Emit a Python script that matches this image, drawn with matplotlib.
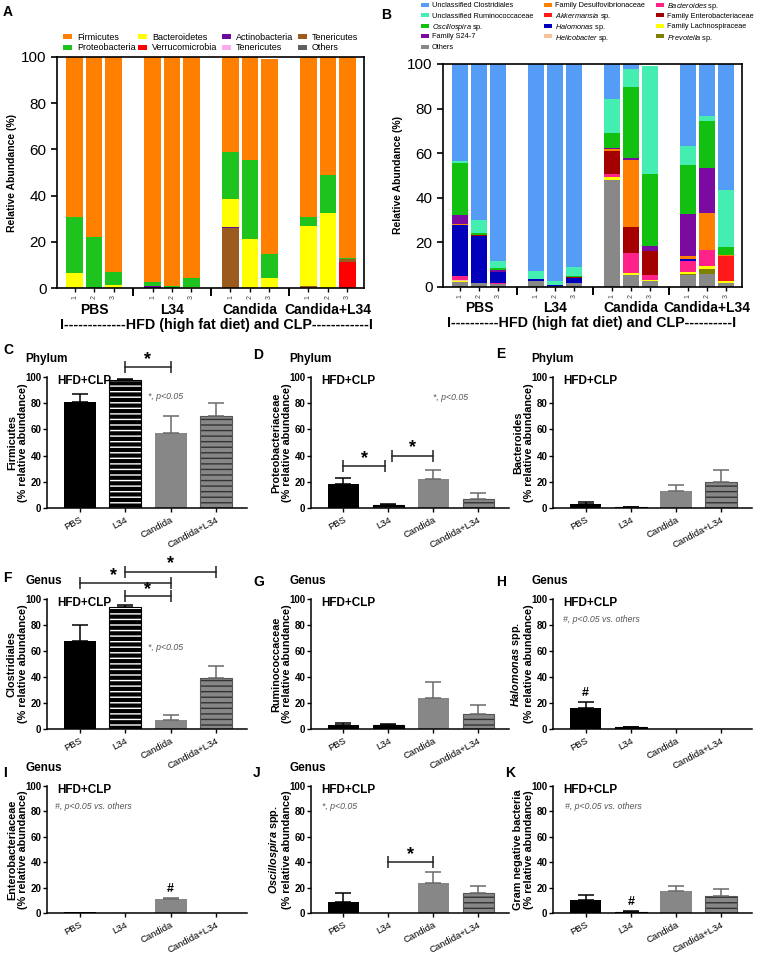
import numpy as np
import matplotlib
matplotlib.use('Agg')
import matplotlib.pyplot as plt
import matplotlib.transforms as mtrans
from matplotlib.patches import Rectangle

plt.rcParams['font.family'] = ['Liberation Sans', 'DejaVu Sans']
plt.rcParams['mathtext.fontset'] = 'custom'
plt.rcParams['mathtext.rm'] = 'Liberation Sans'
plt.rcParams['mathtext.it'] = 'Liberation Sans:italic'
plt.rcParams['mathtext.bf'] = 'Liberation Sans:bold'
plt.rcParams['mathtext.bfit'] = 'Liberation Sans:bold:italic'
plt.rcParams['hatch.linewidth'] = 1.0

# ---------------- data ----------------
groups = ['PBS', 'L34', 'Candida', 'Candida+L34']
replicates = ['1', '2', '3'] * 4

# panel A, phylum level (per sample, PBS1..3, L34 1..3, Candida 1..3, Candida+L34 1..3)
a_verruco = [0, 0, 0, 0, 0, 0, 0, 0, 0, 0, 0, 11.3]
a_teneric_brown = [0, 0, 0, 0, 0, 0, 26.0, 0, 0, 0.8, 0, 1.2]
a_teneric_pink = [0, 0, 0, 0, 0, 0, 0, 0, 0, 0, 0, 0]
a_actino = [0, 0, 0, 0.8, 0, 0, 0.5, 0, 0, 0, 0, 0]
a_bactero = [6.5, 0, 1.3, 0, 0, 0.5, 11.9, 21.0, 4.5, 26.0, 32.3, 0]
a_proteo = [24.2, 22.2, 5.8, 1.8, 1.0, 3.8, 20.6, 34.5, 10.4, 4.1, 16.8, 0.5]
a_firmi = [69.3, 77.8, 92.9, 97.4, 99.0, 95.7, 41.0, 44.5, 84.1, 69.1, 50.9, 87.0]
a_others = [0, 0, 0, 0, 0, 0, 0, 0, 0, 0, 0, 0]

# panel B, genus level
b_others = [2.2, 1.9, 1.5, 2.5, 0.3, 1.9, 48.1, 5.5, 2.5, 5.5, 6.0, 1.8]
b_prevotella = [0, 0, 0, 0, 0, 0, 0, 0, 0, 0.5, 2.1, 0]
b_lachno = [0.6, 0, 0, 0, 0, 0, 1.1, 0.7, 0.5, 0.6, 1.5, 0.8]
b_helico = [0.3, 0, 0, 0, 0, 0, 0, 0, 0, 0, 0, 0]
b_bacteroides = [2.0, 0, 0.3, 0, 0, 0, 1.5, 9.0, 2.2, 4.9, 7.1, 0]
b_halomonas = [22.6, 20.8, 4.8, 1.1, 0.7, 2.1, 0, 0, 0, 0.9, 0, 0]
b_entero = [0, 0.5, 0, 0, 0, 0.3, 10.1, 11.7, 10.8, 0, 0, 0]
b_akkermansia = [0, 0, 0, 0, 0, 0, 0, 0, 0.3, 0, 0, 11.2]
b_desulfo = [0.6, 0, 0, 0, 0, 0, 1.0, 30.2, 0, 1.4, 16.3, 0.4]
b_s24 = [4.1, 0, 1.0, 0, 0, 0, 0.5, 0.9, 2.2, 18.9, 20.4, 0]
b_oscillo = [23.2, 0.8, 1.0, 0, 0, 0.7, 6.6, 31.7, 32.2, 22.2, 20.9, 3.7]
b_rumino = [1.1, 5.9, 2.9, 3.4, 1.8, 4.1, 15.4, 8.2, 48.3, 8.2, 2.2, 25.6]
b_clost = [43.3, 70.1, 88.5, 93.0, 97.2, 90.9, 15.7, 2.1, 0, 36.9, 23.5, 56.5]

# panels C-K: group means and SEM (% relative abundance)
firmicutes_mean = [81, 98, 57.5, 70]
firmicutes_err = [6, 0.5, 13, 10]
proteo_mean = [18.2, 2.2, 22, 6.8]
proteo_err = [5, 0.5, 7, 5]
bacteroides_mean = [3, 0.5, 12.6, 20]
bacteroides_err = [1.5, 0.2, 4.8, 9.3]
clostridiales_mean = [67.8, 94.1, 6.6, 39.1]
clostridiales_err = [12.5, 1.5, 4.4, 9.5]
rumino_mean = [3.3, 3.0, 23.8, 11.8]
rumino_err = [1.5, 0.5, 12, 7]
halomonas_mean = [16.1, 1.5, 0.3, 0.3]
halomonas_err = [5, 0.3, 0, 0]
entero_mean = [0.5, 0, 11.2, 0]
entero_err = [0, 0, 0.4, 0]
oscillo_mean = [9, 0.3, 23.8, 15.6]
oscillo_err = [6.6, 0, 8.2, 5.7]
gramneg_mean = [10.1, 1.1, 17.3, 13.3]
gramneg_err = [4, 0.5, 4, 5.4]

# ---------------- figure ----------------
W, H = 758, 959
fig = plt.figure(figsize=(W / 100, H / 100), dpi=100)


def add_ax(l, t, r, b):
    return fig.add_axes([l / W, 1 - b / H, (r - l) / W, (b - t) / H])


def ftext(x, y, s, **kw):
    fig.text(x / W, 1 - y / H, s, **kw)


def key(x, y, color, label, fs, pw=9, ph=5, gap=6):
    # one legend entry: colour swatch + label, positioned in figure pixels
    fig.patches.append(Rectangle((x / W, 1 - (y + ph / 2) / H), pw / W, ph / H,
                                 transform=fig.transFigure, facecolor=color, edgecolor='none'))
    ftext(x + pw + gap, y, label, fontsize=fs, va='center_baseline', ha='left')


pos = np.array([0, 1, 2, 4, 5, 6, 8, 9, 10, 12, 13, 14])
centers = [1, 5, 9, 13]


def stacked(ax, layers, colors, hfd_text, hfd_x):
    bottom = np.zeros(len(pos))
    for vals, col in zip(layers, colors):
        vals = np.array(vals, dtype=float)
        ax.bar(pos, vals, 0.86, bottom=bottom, color=col, lw=0)
        bottom += vals
    ax.set_xlim(-0.9, 14.85)
    ax.set_ylim(0, 100)
    ax.set_yticks(range(0, 101, 20))
    ax.tick_params(axis='y', labelsize=11, length=4, width=1.2)
    ax.set_xticks(pos)
    ax.set_xticklabels(replicates, rotation=90, fontsize=5, color='#444444')
    ax.set_xticks([3, 7, 11], minor=True)
    ax.tick_params(axis='x', which='major', length=3, width=1, pad=2)
    ax.tick_params(axis='x', which='minor', length=6, width=1.4)
    for s in ax.spines.values():
        s.set_linewidth(1.2)
    ax.set_ylabel('Relative Abundance (%)', fontsize=7.5, fontweight='bold', labelpad=3)
    tr = mtrans.blended_transform_factory(ax.transData, ax.transAxes)
    for c, g in zip(centers, groups):
        ax.text(c, -0.095, g, transform=tr, ha='center', va='center',
                fontsize=10, fontweight='bold')
    ax.text(hfd_x, -0.16, hfd_text, transform=tr, ha='center', va='center',
            fontsize=10.3, fontweight='bold')


# ---- panel A ----
axA = add_ax(57, 57, 364, 288)
a_layers = [a_verruco, a_teneric_brown, a_teneric_pink, a_actino, a_bactero, a_proteo, a_firmi, a_others]
a_colors = ['#ff0000', '#9b5b1e', '#ffaaee', '#6a0a9c', '#ffff00', '#1ec31e', '#ff8000', '#606060']
stacked(axA, a_layers, a_colors, 'I-------------HFD (high fat diet) and CLP------------I', 7.3)
a_names = ['Firmicutes', 'Proteobacteria', 'Bacteroidetes', 'Verrucomicrobia',
           'Actinobacteria', 'Tenericutes', 'Tenericutes', 'Others']
a_cols = ['#ff8000', '#1ec31e', '#ffff00', '#ff0000', '#6a0a9c', '#ffaaee', '#9b5b1e', '#606060']
for j, x in enumerate([63, 138, 222, 298]):
    for k, y in enumerate([36, 47]):
        key(x, y, a_cols[2 * j + k], a_names[2 * j + k], 6.5, pw=9, ph=5, gap=5)

# ---- panel B ----
axB = add_ax(443, 64, 742, 287)
b_layers = [b_others, b_prevotella, b_lachno, b_helico, b_bacteroides, b_halomonas, b_entero,
            b_akkermansia, b_desulfo, b_s24, b_oscillo, b_rumino, b_clost]
c_others, c_prevo, c_lachno, c_helico, c_bactero = '#888888', '#808000', '#ffff00', '#f5c29b', '#ff2288'
c_halo, c_entero, c_akk, c_desulfo, c_s24 = '#0000bb', '#a50000', '#ff1a1a', '#ff8000', '#7a0aa0'
c_oscillo, c_rumino, c_clost = '#11c011', '#44eeb0', '#559cf7'
b_colors = [c_others, c_prevo, c_lachno, c_helico, c_bactero, c_halo, c_entero, c_akk,
            c_desulfo, c_s24, c_oscillo, c_rumino, c_clost]
stacked(axB, b_layers, b_colors, 'I----------HFD (high fat diet) and CLP----------I', 6.9)
b_cols = [[c_clost, c_rumino, c_oscillo, c_s24, c_others],
          [c_desulfo, c_akk, c_halo, c_helico],
          [c_bactero, c_entero, c_lachno, c_prevo]]
b_names = [['Unclassified Clostridiales', 'Unclassified Ruminococcaceae', r'$\mathit{Oscillospira}$ sp.',
            'Family S24-7', 'Others'],
           ['Family Desulfovibrionaceae', r'$\mathit{Akkermansia}$ sp.',
            r'$\mathit{Halomonas}$ sp.', r'$\mathit{Helicobacter}$ sp.'],
           [r'$\mathit{Bacteroides}$ sp.', 'Family Enterobacteriaceae', 'Family Lachnospiraceae',
            r'$\mathit{Prevotella}$ sp.']]
b_rows = [4.5, 15, 25.5, 36, 46.5]
for x, cl, nm in zip([421, 544, 656], b_cols, b_names):
    for y, c, n in zip(b_rows, cl, nm):
        key(x, y, c, n, 5.3, pw=8, ph=4, gap=3)

ftext(3, 12, 'A', fontsize=10, fontweight='bold', va='center')
ftext(381, 15, 'B', fontsize=10, fontweight='bold', va='center')

# ---------------- bar panels ----------------
cols = [(47, 247), (311, 509), (553, 752)]
rows = [(377, 508), (599, 729), (786, 913)]
xb = np.arange(4)
faces = ['black', 'black', '#878787', '#878787']
hatches = [None, '---', None, '---']
hcols = ['black', 'white', '#878787', '#333333']
ecols = ['black', 'black', '#6a6a6a', '#6a6a6a']


def bar_panel(ax, mean, err, ylabel):
    for i in range(4):
        ax.bar(xb[i], mean[i], 0.7, color=faces[i], edgecolor=hcols[i], hatch=hatches[i], lw=0)
        if hatches[i]:
            ax.bar(xb[i], mean[i], 0.7, fill=False, edgecolor=faces[i] if i == 1 else '#555555', lw=0.8)
        if err[i] > 0:
            ax.errorbar(xb[i], mean[i], yerr=[[0], [err[i]]], fmt='none', ecolor=ecols[i],
                        elinewidth=1.1, capsize=5.5, capthick=1.1)
    ax.set_xlim(-0.72, 3.68)
    ax.set_ylim(0, 100)
    ax.set_yticks(range(0, 101, 20))
    ax.set_xticks(xb)
    ax.set_xticklabels(groups, rotation=28, ha='right', rotation_mode='anchor', fontsize=6.8)
    ax.tick_params(axis='y', labelsize=7, length=3, width=1, pad=1)
    ax.tick_params(axis='x', length=3, width=1, pad=2)
    for t in ax.get_yticklabels():
        t.set_fontweight('bold')
    ax.spines['top'].set_visible(False)
    ax.spines['right'].set_visible(False)
    ax.spines['left'].set_linewidth(1.1)
    ax.spines['bottom'].set_linewidth(1.1)
    ax.set_ylabel(ylabel, fontsize=7.8, fontweight='bold', linespacing=1.1)
    ax.yaxis.set_label_coords(-0.097, 0.5)
    ax.text(0.05, 0.97, 'HFD+CLP', transform=ax.transAxes, fontsize=8.5, fontweight='bold',
            ha='left', va='center')


def bracket(ax, x1, x2, y, ys, xs=None):
    ax.plot([x1, x2], [y, y], color='#222222', lw=1.1, marker='|', markersize=8,
            markeredgewidth=1.1, clip_on=False)
    ax.text((x1 + x2) / 2 if xs is None else xs, ys, '*', ha='center', va='center',
            fontsize=13, fontweight='bold', clip_on=False)


def note(ax, x, y, s):
    ax.text(x, y, s, fontsize=6.3, style='italic', color='#555555', ha='left', va='center')


def hmark(ax, x, y):
    ax.text(x, y, '#', fontsize=9, fontweight='bold', ha='center', va='center')


panels = {}
specs = [
    ('C', 'Phylum', firmicutes_mean, firmicutes_err, 'Firmicutes\n(% relative abundance)'),
    ('D', 'Phylum', proteo_mean, proteo_err, 'Proteobacteriaceae\n(% relative abundance)'),
    ('E', 'Phylum', bacteroides_mean, bacteroides_err, 'Bacteroides\n(% relative abundance)'),
    ('F', 'Genus', clostridiales_mean, clostridiales_err, 'Clostridiales\n(% relative abundance)'),
    ('G', 'Genus', rumino_mean, rumino_err, 'Ruminococcaceae\n(% relative abundance)'),
    ('H', 'Genus', halomonas_mean, halomonas_err, r'$\mathbfit{Halomonas}$ spp.' + '\n(% relative abundance)'),
    ('I', 'Genus', entero_mean, entero_err, 'Enterobacteriaceae\n(% relative abundance)'),
    ('J', 'Genus', oscillo_mean, oscillo_err, r'$\mathbfit{Oscillospira}$ spp.' + '\n(% relative abundance)'),
    ('K', None, gramneg_mean, gramneg_err, 'Gram negative bacteria\n(% relative abundance)'),
]
letter_pos = {'C': (3, 350), 'D': (253, 355), 'E': (496, 354), 'F': (3, 578), 'G': (253, 582),
              'H': (496, 582), 'I': (3, 773), 'J': (253, 773), 'K': (505, 773)}
for k, (letter, level, m, e, yl) in enumerate(specs):
    l, r = cols[k % 3]
    t, b = rows[k // 3]
    ax = add_ax(l, t, r, b)
    bar_panel(ax, m, e, yl)
    panels[letter] = ax
    lx, ly = letter_pos[letter]
    ftext(lx, ly, letter, fontsize=10, fontweight='bold', va='center')
    if level:
        ftext(l - 22, t - 18, level, fontsize=8.5, fontweight='bold', va='center')

bracket(panels['C'], 1, 2, 107.5, 113)
note(panels['C'], 1.5, 85, '*, p<0.05')
bracket(panels['D'], 0, 0.93, 32, 38)
bracket(panels['D'], 1.07, 2, 40, 46)
note(panels['D'], 2.0, 84, '*, p<0.05')
bracket(panels['F'], 1, 2, 102, 107.5)
bracket(panels['F'], 0, 2, 112.5, 118, xs=0.75)
bracket(panels['F'], 1, 3, 121, 127)
note(panels['F'], 1.5, 63, '*, p<0.05')
note(panels['H'], -0.5, 84.5, '#, p<0.05 vs. others')
hmark(panels['H'], 0, 28)
note(panels['I'], -0.55, 84, '#, p<0.05 vs. others')
hmark(panels['I'], 2, 19)
bracket(panels['J'], 1, 2, 40, 46)
note(panels['J'], -0.48, 84, '*, p<0.05')
note(panels['K'], -0.45, 84, '#, p<0.05 vs. others')
hmark(panels['K'], 1, 9)

fig.savefig('out.png', dpi=100)
